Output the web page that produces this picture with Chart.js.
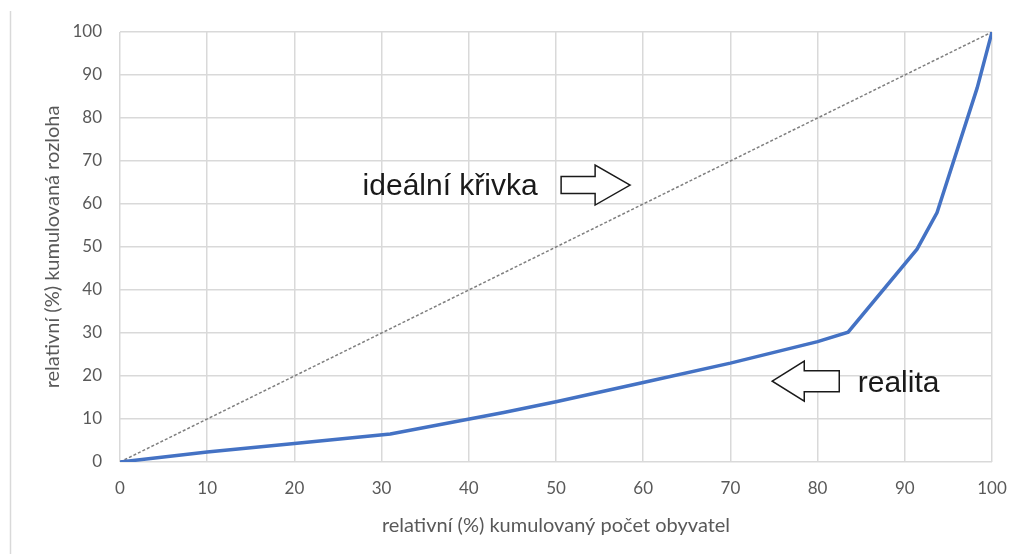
<!DOCTYPE html>
<html>
<head>
<meta charset="utf-8">
<script src="https://cdn.jsdelivr.net/npm/chart.js@4"></script>
<style>
  html, body { margin: 0; padding: 0; background: #fff; }
  #wrap { width: 1018px; height: 554px; position: relative; }
</style>
</head>
<body>
<div id="wrap"><canvas id="lorenzChart" width="1018" height="554"></canvas></div>
<script>
// cumulative share of population (x) vs cumulative share of area (y)
var realX = [0, 10, 20, 31, 44, 50, 60, 70, 80, 83.5, 91.4, 93.7, 98.3, 100];
var realY = [0, 2.3, 4.3, 6.5, 11.5, 14, 18.5, 23, 28, 30.2, 49.5, 58, 87, 100];
var idealX = [0, 100];
var idealY = [0, 100];
var xTitle = 'relativní (%) kumulovaný počet obyvatel';
var yTitle = 'relativní (%) kumulovaná rozloha';
var idealLabel = 'ideální křivka';
var realLabel = 'realita';

function toPoints(xs, ys) {
    return xs.map(function (x, i) { return { x: x, y: ys[i] }; });
}

// block arrow, tip at (tx, ty) in pixels, dir = 1 right / -1 left
function blockArrow(ctx, tx, ty, dir, headLen, shaftLen, headHalf, shaftHalf) {
    var hb = tx - dir * headLen;
    var se = hb - dir * shaftLen;
    ctx.save();
    ctx.beginPath();
    ctx.moveTo(tx, ty);
    ctx.lineTo(hb, ty - headHalf);
    ctx.lineTo(hb, ty - shaftHalf);
    ctx.lineTo(se, ty - shaftHalf);
    ctx.lineTo(se, ty + shaftHalf);
    ctx.lineTo(hb, ty + shaftHalf);
    ctx.lineTo(hb, ty + headHalf);
    ctx.closePath();
    ctx.fillStyle = '#fff';
    ctx.fill();
    ctx.strokeStyle = '#1a1a1a';
    ctx.lineWidth = 1.5;
    ctx.stroke();
    ctx.restore();
}

var annotations = {
    id: 'annotations',
    beforeDraw: function (chart) {
        var ctx = chart.ctx;
        ctx.save();
        ctx.strokeStyle = '#d9d9d9';
        ctx.lineWidth = 1.5;
        ctx.beginPath();
        ctx.moveTo(10.5, 11);
        ctx.lineTo(10.5, 554);
        ctx.stroke();
        ctx.restore();
    },
    afterDatasetsDraw: function (chart) {
        var ctx = chart.ctx;
        var x = chart.scales.x, y = chart.scales.y;
        ctx.save();
        ctx.font = '30px "Liberation Sans", Arial, sans-serif';
        ctx.fillStyle = '#1a1a1a';
        ctx.textBaseline = 'alphabetic';

        ctx.textAlign = 'right';
        ctx.fillText(idealLabel, x.getPixelForValue(47.9), y.getPixelForValue(62.1));
        blockArrow(ctx, x.getPixelForValue(58.5), y.getPixelForValue(64.4), 1, 35, 34, 20, 8.5);

        ctx.textAlign = 'left';
        ctx.fillText(realLabel, x.getPixelForValue(84.6), y.getPixelForValue(16.3));
        blockArrow(ctx, x.getPixelForValue(74.8), y.getPixelForValue(18.8), -1, 32, 35, 20, 10.5);
        ctx.restore();
    }
};

var ctx = document.getElementById('lorenzChart').getContext('2d');
var lorenzChart = new Chart(ctx, {
    type: 'scatter',
    data: {
        datasets: [{
            label: 'ideal',
            data: toPoints(idealX, idealY),
            showLine: true,
            borderColor: '#7f7f7f',
            borderWidth: 1.5,
            borderDash: [3, 2],
            pointRadius: 0,
            order: 2
        }, {
            label: 'realita',
            data: toPoints(realX, realY),
            showLine: true,
            borderColor: '#4472c4',
            borderWidth: 3.5,
            pointRadius: 0,
            order: 1
        }]
    },
    options: {
        responsive: false,
        animation: false,
        layout: { padding: { top: 32, right: 26, left: 0, bottom: 0 } },
        scales: {
            x: {
                type: 'linear',
                min: 0,
                max: 100,
                afterFit: function (s) {
                    s.height = 92;
                    s.paddingLeft = 0;
                    s.paddingRight = 0;
                },
                grid: { color: '#d9d9d9', lineWidth: 1.5, drawTicks: false },
                border: { display: false },
                ticks: {
                    stepSize: 10,
                    padding: 16,
                    color: '#595959',
                    font: { family: 'Lato', size: 17 }
                },
                title: {
                    display: true,
                    text: xTitle,
                    color: '#595959',
                    font: { family: 'Lato', size: 20 },
                    padding: { top: 0, bottom: 16 }
                }
            },
            y: {
                min: 0,
                max: 100,
                afterFit: function (s) {
                    s.width = 120;
                    s.paddingTop = 0;
                    s.paddingBottom = 0;
                },
                grid: { color: '#d9d9d9', lineWidth: 1.5, drawTicks: false },
                border: { display: false },
                ticks: {
                    stepSize: 10,
                    padding: 18,
                    color: '#595959',
                    font: { family: 'Lato', size: 17 }
                },
                title: {
                    display: true,
                    text: yTitle,
                    color: '#595959',
                    font: { family: 'Lato', size: 20 },
                    padding: { top: 41, bottom: 0 }
                }
            }
        },
        plugins: {
            legend: { display: false },
            tooltip: { enabled: false }
        }
    },
    plugins: [annotations]
});
</script>
</body>
</html>
